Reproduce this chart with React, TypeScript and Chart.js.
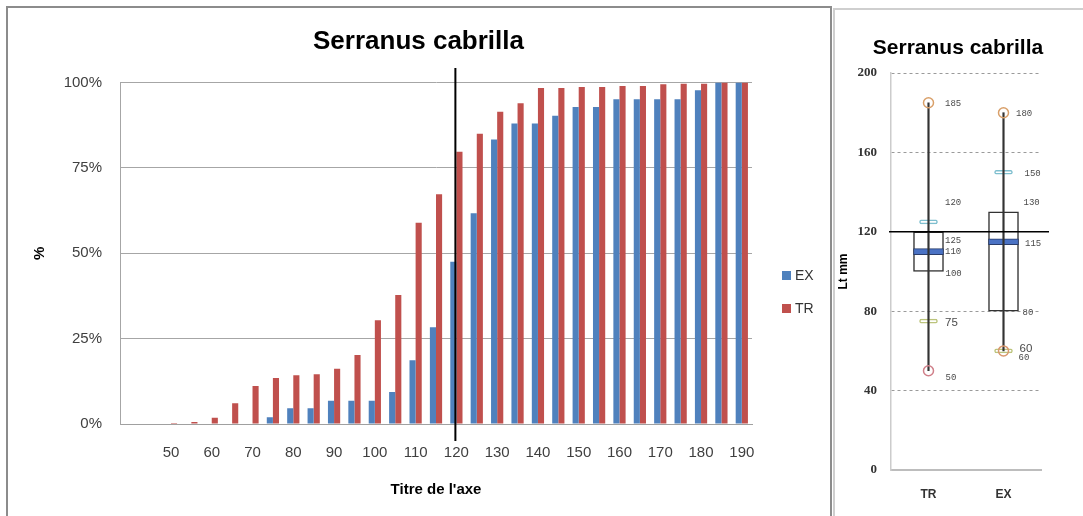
import React, { useEffect, useRef } from 'react';
import { Chart, registerables } from 'chart.js';

Chart.register(...registerables);

// ---------- Left chart data (cumulative %, by size class in mm) ----------
const sizeClasses = ['40', '45', '50', '55', '60', '65', '70', '75', '80', '85', '90', '95', '100', '105', '110', '115', '120', '125', '130', '135', '140', '145', '150', '155', '160', '165', '170', '175', '180', '185', '190'];
const exValues = [0, 0, 0, 0, 0, 0, 0, 2.0, 4.6, 4.6, 6.8, 6.8, 6.8, 9.4, 18.7, 28.3, 47.5, 61.7, 83.3, 88.0, 88.0, 90.3, 92.8, 92.8, 95.1, 95.1, 95.1, 95.1, 97.7, 100, 100];
const trValues = [0, 0, 0.3, 0.6, 1.8, 6.1, 11.1, 13.5, 14.3, 14.6, 16.2, 20.2, 30.4, 37.8, 58.9, 67.3, 79.7, 85.0, 91.4, 93.9, 98.4, 98.4, 98.7, 98.7, 99.0, 99.0, 99.5, 99.6, 99.6, 100, 100];
const yTickValues = [0, 25, 50, 75, 100];
const referenceClass = '120';
const chartTitle = 'Serranus cabrilla';
const xAxisTitle = "Titre de l'axe";

// ---------- Right chart data (box plot, Lt mm) ----------
const groups = ['TR', 'EX'];
const q1 = [100, 80];
const q3 = [120, 130];
const medians = [110, 115];
const maxima = [185, 180];
const minima = [50, 60];
const upperMarks = [125, 150];
const lowerMarks = [75, 60];
const referenceLength = 120;
const trLabelValues = [185, 120, 125, 110, 100, 75, 50];
const exLabelValues = [180, 150, 130, 115, 80, 60, 60];

// label layout (pixel offsets from anchor, font kind) – style only
const trLabelLayout = [
  { dx: 16.5, dy: 1, big: false },
  { dx: 16.5, dy: -29, big: false },
  { dx: 16.5, dy: 19, big: false },
  { dx: 16.5, dy: 0, big: false },
  { dx: 17, dy: 2, big: false },
  { dx: 16.5, dy: 1.5, big: true },
  { dx: 17, dy: 7, big: false },
];
const exLabelLayout = [
  { dx: 12.5, dy: 1, big: false },
  { dx: 21, dy: 1.5, big: false },
  { dx: 20, dy: -9, big: false },
  { dx: 21.5, dy: 1.5, big: false },
  { dx: 19, dy: 1, big: false },
  { dx: 16, dy: -2, big: true },
  { dx: 15, dy: 7, big: false },
];

const SANS = 'Liberation Sans';
const EX_COLOR = '#4f81bd';
const TR_COLOR = '#c0504d';

const leftDecor = {
  id: 'leftDecor',
  afterDatasetsDraw(chart: any) {
    const { ctx, chartArea, scales } = chart;
    const x = scales.x.getPixelForValue(sizeClasses.indexOf(referenceClass)) - 1;
    ctx.save();
    ctx.strokeStyle = '#000';
    ctx.lineWidth = 2;
    ctx.beginPath();
    ctx.moveTo(x, chartArea.top - 14.5);
    ctx.lineTo(x, chartArea.bottom + 17);
    ctx.stroke();
    ctx.restore();
  },
  afterDraw(chart: any) {
    const { ctx } = chart;
    ctx.save();
    ctx.fillStyle = '#000';
    ctx.font = `bold 26px "${SANS}"`;
    ctx.textAlign = 'center';
    ctx.textBaseline = 'middle';
    ctx.fillText(chartTitle, 418.5, 42);
    // legend
    const items = chart.data.datasets;
    ctx.font = `14px "${SANS}"`;
    ctx.textAlign = 'left';
    items.forEach((ds: any, i: number) => {
      const cy = 275.5 + i * 33;
      ctx.fillStyle = ds.backgroundColor;
      ctx.fillRect(782, cy - 4.5, 9, 9);
      ctx.fillStyle = '#333';
      ctx.fillText(ds.label, 795, cy + 0.5);
    });
    ctx.restore();
  },
};

const rightDecor = {
  id: 'rightDecor',
  afterDatasetsDraw(chart: any) {
    const { ctx, chartArea, scales } = chart;
    const y = scales.y.getPixelForValue(referenceLength);
    ctx.save();
    ctx.strokeStyle = '#000';
    ctx.lineWidth = 1.5;
    ctx.beginPath();
    ctx.moveTo(chartArea.left - 2, y);
    ctx.lineTo(chartArea.right + 8, y);
    ctx.stroke();

    const drawLabels = (values: number[], layout: any[], gi: number) => {
      const cx = scales.x.getPixelForValue(gi);
      values.forEach((v, i) => {
        const l = layout[i];
        ctx.font = l.big ? `11.5px "${SANS}"` : `9px "Liberation Mono"`;
        ctx.fillStyle = '#4a4a4a';
        ctx.textAlign = 'left';
        ctx.textBaseline = 'middle';
        ctx.fillText(String(v), cx + l.dx, scales.y.getPixelForValue(v) + l.dy);
      });
    };
    drawLabels(trLabelValues, trLabelLayout, 0);
    drawLabels(exLabelValues, exLabelLayout, 1);
    ctx.restore();
  },
  afterDraw(chart: any) {
    const { ctx } = chart;
    ctx.save();
    ctx.fillStyle = '#000';
    ctx.font = `bold 21px "${SANS}"`;
    ctx.textAlign = 'center';
    ctx.textBaseline = 'middle';
    ctx.fillText(chartTitle, 123, 38);
    ctx.restore();
  },
};

function leftConfig(): any {
  return {
    type: 'bar',
    data: {
      labels: sizeClasses,
      datasets: [
        { label: 'EX', data: exValues, backgroundColor: EX_COLOR, categoryPercentage: 0.6, barPercentage: 1.0 },
        { label: 'TR', data: trValues, backgroundColor: TR_COLOR, categoryPercentage: 0.6, barPercentage: 1.0 },
      ],
    },
    options: {
      responsive: false,
      animation: false,
      devicePixelRatio: 1,
      layout: { padding: { left: 27, right: 78, top: 82.5, bottom: 13.5 } },
      plugins: { legend: { display: false }, title: { display: false }, tooltip: { enabled: false } },
      scales: {
        x: {
          grid: { display: false, drawTicks: false },
          border: { display: true, color: '#a0a0a0', width: 1 },
          ticks: {
            autoSkip: false,
            maxRotation: 0,
            padding: 20,
            color: '#404040',
            font: { family: SANS, size: 15 },
            callback: (_v: any, i: number) => {
              const n = Number(sizeClasses[i]);
              return n % 10 === 0 && n >= 50 ? sizeClasses[i] : '';
            },
          },
          title: { display: true, text: xAxisTitle, color: '#000', font: { family: SANS, size: 15, weight: 'bold' }, padding: { top: 4, bottom: 4 } },
          afterFit: (s: any) => { s.height = 78.5; },
        },
        y: {
          min: 0,
          max: 100,
          afterBuildTicks: (s: any) => { s.ticks = yTickValues.map((v) => ({ value: v })); },
          ticks: { padding: 18, color: '#404040', font: { family: SANS, size: 15 }, callback: (v: any) => v + '%' },
          grid: { color: '#a6a6a6', drawTicks: false, lineWidth: 1 },
          border: { display: true, color: '#a6a6a6', width: 1 },
          title: { display: true, text: '%', color: '#000', font: { family: SANS, size: 15, weight: 'bold' }, padding: { top: 4, bottom: 4 } },
          afterFit: (s: any) => { s.width = 93; },
        },
      },
    },
    plugins: [leftDecor],
  };
}

function rightConfig(): any {
  const floatBar = { type: 'bar', grouped: false, borderSkipped: false };
  return {
    type: 'bar',
    data: {
      labels: groups,
      datasets: [
        { ...floatBar, label: 'box', data: groups.map((_, i) => [q1[i], q3[i]]), backgroundColor: '#ffffff', borderColor: '#333333', borderWidth: 1.5, barThickness: 30, order: 5 },
        { ...floatBar, label: 'median', data: medians.map((m) => [m - 1.5, m + 1.5]), backgroundColor: '#4a72c4', borderColor: '#2a3d6b', borderWidth: 1, barThickness: 30, order: 4 },
        { ...floatBar, label: 'upper', data: upperMarks.map((v) => [v - 1, v + 1]), backgroundColor: '#ffffff', borderColor: '#7fbfcf', borderWidth: 1.5, borderRadius: 3, barThickness: 18, order: 3 },
        { ...floatBar, label: 'lower', data: lowerMarks.map((v) => [v - 1, v + 1]), backgroundColor: '#ffffff', borderColor: '#bcc47c', borderWidth: 1.5, borderRadius: 3, barThickness: 18, order: 3 },
        { ...floatBar, label: 'range', data: groups.map((_, i) => [minima[i], maxima[i]]), backgroundColor: '#333333', borderWidth: 0, barThickness: 1.5, order: 2 },
        { type: 'line', label: 'max', data: maxima, showLine: false, pointStyle: 'circle', pointRadius: 5, pointBorderWidth: 1.5, pointBorderColor: '#d9a06a', pointBackgroundColor: 'rgba(255,255,255,0)', order: 1 },
        { type: 'line', label: 'min', data: minima, showLine: false, pointStyle: 'circle', pointRadius: 5, pointBorderWidth: 1.5, pointBorderColor: ['#d0808a', '#d9986e'], pointBackgroundColor: 'rgba(255,255,255,0)', order: 1 },
      ],
    },
    options: {
      responsive: false,
      animation: false,
      devicePixelRatio: 1,
      layout: { padding: { left: 0, right: 42, top: 63, bottom: 0 } },
      plugins: { legend: { display: false }, title: { display: false }, tooltip: { enabled: false } },
      scales: {
        x: {
          grid: { display: false, drawTicks: false },
          border: { display: true, color: '#bdbdbd', width: 2 },
          ticks: { padding: 17, color: '#333', font: { family: SANS, size: 12, weight: 'bold' } },
          afterFit: (s: any) => { s.height = 46; },
        },
        y: {
          min: 0,
          max: 200,
          ticks: { stepSize: 40, padding: 14, color: '#333', font: { family: 'Liberation Serif', size: 13, weight: 'bold' } },
          grid: {
            drawTicks: false,
            lineWidth: 1,
            color: (c: any) => (c.tick && (c.tick.value === 0 || c.tick.value === referenceLength) ? 'rgba(0,0,0,0)' : '#9a9a9a'),
          },
          border: { display: true, color: '#cccccc', width: 1.5, dash: [3, 3] },
          title: { display: true, text: 'Lt mm', color: '#000', font: { family: SANS, size: 12, weight: 'bold' }, padding: { top: 1, bottom: 0 } },
          afterFit: (s: any) => { s.width = 56; },
        },
      },
    },
    plugins: [rightDecor],
  };
}

export default function App() {
  const leftRef = useRef<HTMLCanvasElement>(null);
  const rightRef = useRef<HTMLCanvasElement>(null);

  useEffect(() => {
    const c1 = new Chart(leftRef.current as HTMLCanvasElement, leftConfig());
    const c2 = new Chart(rightRef.current as HTMLCanvasElement, rightConfig());
    return () => {
      c1.destroy();
      c2.destroy();
    };
  }, []);

  return (
    <div style={{ position: 'fixed', left: 0, top: 0, width: 1083, height: 516, background: '#fff', overflow: 'hidden' }}>
      <div style={{ position: 'absolute', left: 6, top: 6, width: 826, height: 600, border: '2px solid #8c8c8c', boxSizing: 'border-box' }} />
      <div style={{ position: 'absolute', left: 833, top: 8, width: 260, height: 600, borderLeft: '2px solid #cfcfcf', borderTop: '2px solid #cfcfcf', boxSizing: 'border-box' }} />
      <canvas ref={leftRef} width={830} height={516} style={{ position: 'absolute', left: 0, top: 0 }} />
      <canvas ref={rightRef} width={248} height={506} style={{ position: 'absolute', left: 835, top: 10 }} />
    </div>
  );
}
